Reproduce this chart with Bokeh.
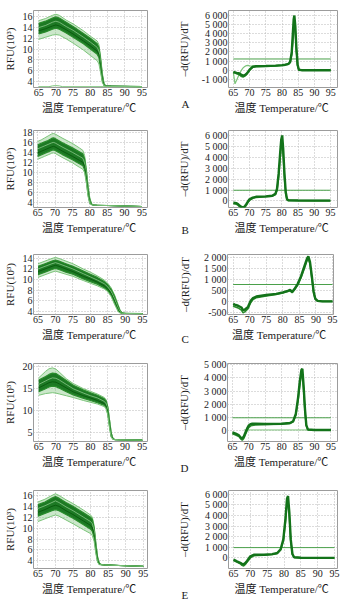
from bokeh.plotting import figure
from bokeh.layouts import column, row
from bokeh.models import FixedTicker, Range1d, Title
from bokeh.embed import file_html
from bokeh.resources import INLINE

# ---------------- data ----------------
XTICKS = [65, 70, 75, 80, 85, 90, 95]
X_LABEL = "温度  Temperature/℃"
Y_LABEL_MELT = "RFU(10³)"
Y_LABEL_DERIV = "–d(RFU)/dT"
LETTERS = ["A", "B", "C", "D", "E"]

# --- A: melt curves ---
a_T = [65, 67, 69, 70, 71, 73, 75, 78, 80, 82, 82.5, 83, 83.5, 84, 84.5, 86, 90, 95]
a_c1 = [15.3, 15.7, 16.3, 16.5, 16.3, 15.4, 14.7, 13.4, 12.4, 11.5, 10.8, 8.5, 5.5, 3.6, 3.1, 3.05, 3.0, 2.95]
a_c2 = [14.8, 15.2, 15.8, 16.0, 15.8, 15.0, 14.2, 12.9, 12.0, 11.0, 10.3, 8.0, 5.0, 3.4, 3.1, 3.05, 3.0, 2.95]
a_c3 = [14.0, 14.4, 15.0, 15.2, 15.0, 14.2, 13.5, 12.2, 11.3, 10.3, 9.6, 7.3, 4.5, 3.3, 3.1, 3.05, 3.0, 2.95]
a_c4 = [13.4, 13.8, 14.3, 14.5, 14.3, 13.6, 12.8, 11.5, 10.6, 9.6, 9.0, 6.8, 4.2, 3.2, 3.1, 3.05, 3.0, 2.95]
a_c5 = [12.8, 13.2, 13.7, 13.9, 13.7, 13.0, 12.2, 11.0, 10.0, 9.0, 8.4, 6.2, 4.0, 3.2, 3.05, 3.0, 3.0, 2.95]
a_c6 = [11.8, 12.2, 12.6, 12.7, 12.6, 11.9, 11.1, 9.8, 8.8, 7.8, 7.2, 5.5, 3.7, 3.1, 3.05, 3.0, 2.95, 2.9]
a_ntc_T = [65, 68, 69, 70, 71, 72, 95]
a_ntc = [2.95, 2.95, 3.1, 3.15, 3.1, 2.95, 2.95]

# --- B: melt curves ---
b_T = [65, 66, 67, 68, 69, 69.5, 70, 72, 75, 77, 78, 78.5, 79, 79.5, 80, 80.5, 81, 82, 85, 90, 95]
b_c1 = [16.3, 16.6, 17.0, 17.4, 17.8, 17.9, 17.8, 17.0, 15.9, 15.0, 14.5, 13.5, 11.0, 7.5, 5.0, 3.8, 3.5, 3.45, 3.4, 3.3, 3.2]
b_c2 = [15.6, 15.9, 16.2, 16.5, 16.9, 17.0, 16.9, 16.1, 15.0, 14.2, 13.8, 12.8, 10.3, 7.0, 4.6, 3.7, 3.5, 3.45, 3.4, 3.3, 3.2]
b_c3 = [14.8, 15.1, 15.4, 15.7, 16.0, 16.1, 16.0, 15.2, 14.1, 13.3, 12.9, 12.0, 9.7, 6.5, 4.3, 3.6, 3.5, 3.45, 3.4, 3.3, 3.2]
b_c4 = [14.0, 14.3, 14.6, 14.9, 15.2, 15.3, 15.2, 14.4, 13.3, 12.5, 12.1, 11.3, 9.0, 6.0, 4.0, 3.6, 3.5, 3.45, 3.4, 3.3, 3.2]
b_c5 = [13.3, 13.6, 13.9, 14.2, 14.5, 14.6, 14.5, 13.7, 12.6, 11.8, 11.4, 10.6, 8.4, 5.6, 3.9, 3.6, 3.5, 3.45, 3.4, 3.3, 3.2]
b_c6 = [12.7, 13.0, 13.3, 13.6, 13.9, 14.0, 13.9, 13.1, 12.0, 11.1, 10.7, 10.0, 8.0, 5.2, 3.8, 3.55, 3.5, 3.45, 3.4, 3.3, 3.2]

# --- C: melt curves ---
c_T = [65, 67, 69, 70, 71, 73, 75, 78, 80, 82, 84, 85, 86, 87, 88, 88.5, 89, 89.5, 90, 95]
c_c1 = [13.0, 13.5, 14.0, 14.2, 14.0, 13.5, 13.0, 12.0, 11.4, 10.7, 9.9, 9.3, 8.4, 7.0, 5.2, 4.3, 3.8, 3.6, 3.55, 3.5]
c_c2 = [12.5, 13.0, 13.5, 13.7, 13.5, 13.0, 12.5, 11.6, 11.0, 10.4, 9.6, 9.0, 8.1, 6.7, 4.9, 4.1, 3.7, 3.6, 3.55, 3.5]
c_c3 = [12.0, 12.5, 13.0, 13.2, 13.0, 12.5, 12.0, 11.1, 10.5, 9.9, 9.2, 8.6, 7.7, 6.2, 4.5, 3.9, 3.65, 3.6, 3.55, 3.5]
c_c4 = [11.5, 12.0, 12.5, 12.7, 12.5, 12.0, 11.5, 10.6, 10.1, 9.5, 8.8, 8.2, 7.3, 5.8, 4.2, 3.8, 3.6, 3.55, 3.55, 3.5]
c_c5 = [10.9, 11.4, 11.9, 12.1, 11.9, 11.4, 11.0, 10.1, 9.6, 9.1, 8.4, 7.9, 7.0, 5.5, 4.0, 3.7, 3.6, 3.55, 3.55, 3.5]
c_c6 = [10.4, 10.9, 11.4, 11.6, 11.4, 11.0, 10.6, 9.8, 9.3, 8.8, 8.2, 7.7, 6.7, 5.2, 3.9, 3.65, 3.6, 3.55, 3.55, 3.5]

# --- D: melt curves ---
d_T = [65, 67, 68, 69, 70, 71, 73, 75, 78, 80, 82, 84, 84.5, 85, 85.5, 86, 86.5, 87, 88, 95]
d_c1 = [17.5, 19.0, 19.6, 19.8, 19.5, 18.8, 17.3, 16.2, 15.0, 14.4, 13.8, 13.0, 12.5, 11.0, 8.0, 5.0, 3.6, 3.35, 3.3, 3.2]
d_c2 = [17.0, 17.8, 18.3, 18.6, 18.5, 18.0, 16.9, 15.8, 14.7, 14.1, 13.5, 12.7, 12.2, 10.8, 7.8, 4.8, 3.6, 3.35, 3.3, 3.2]
d_c3 = [16.0, 16.8, 17.2, 17.5, 17.4, 17.0, 16.0, 15.0, 14.0, 13.4, 12.9, 12.1, 11.6, 10.2, 7.3, 4.5, 3.5, 3.35, 3.3, 3.2]
d_c4 = [15.2, 16.0, 16.4, 16.6, 16.5, 16.1, 15.2, 14.3, 13.4, 12.9, 12.3, 11.6, 11.1, 9.7, 6.8, 4.2, 3.5, 3.35, 3.3, 3.2]
d_c5 = [14.3, 15.0, 15.4, 15.6, 15.5, 15.1, 14.3, 13.6, 12.8, 12.3, 11.8, 11.2, 10.7, 9.3, 6.4, 4.0, 3.45, 3.35, 3.3, 3.2]
d_c6 = [13.5, 13.9, 14.0, 14.1, 14.0, 13.8, 13.4, 13.0, 12.3, 11.9, 11.5, 10.9, 10.4, 9.0, 6.0, 3.9, 3.45, 3.35, 3.3, 3.2]

# --- E: melt curves ---
e_T = [65, 67, 69, 70, 71, 73, 75, 78, 80, 80.5, 81, 81.5, 82, 82.5, 83, 84, 90, 95]
e_c1 = [14.8, 15.3, 16.0, 16.3, 16.0, 15.2, 14.5, 13.3, 12.4, 12.0, 10.5, 7.5, 4.8, 3.6, 3.35, 3.25, 3.1, 3.0]
e_c2 = [14.3, 14.8, 15.5, 15.8, 15.5, 14.7, 14.0, 12.8, 12.0, 11.6, 10.1, 7.1, 4.6, 3.5, 3.35, 3.25, 3.1, 3.0]
e_c3 = [13.6, 14.1, 14.7, 15.0, 14.7, 13.9, 13.2, 12.0, 11.2, 10.8, 9.5, 6.7, 4.3, 3.45, 3.3, 3.25, 3.1, 3.0]
e_c4 = [12.9, 13.4, 14.0, 14.2, 14.0, 13.2, 12.5, 11.3, 10.5, 10.1, 8.9, 6.2, 4.1, 3.4, 3.3, 3.25, 3.1, 3.0]
e_c5 = [12.2, 12.7, 13.2, 13.4, 13.2, 12.5, 11.8, 10.6, 9.8, 9.4, 8.3, 5.8, 3.9, 3.35, 3.3, 3.25, 3.1, 3.0]
e_c6 = [11.2, 11.7, 12.2, 12.4, 12.2, 11.5, 10.8, 9.7, 9.0, 8.6, 7.6, 5.3, 3.7, 3.3, 3.3, 3.25, 3.1, 3.0]

# --- A: derivative ---
ar_T = [65, 65.5, 66, 66.5, 67, 67.5, 68, 68.5, 69, 69.5, 70, 71, 72, 75, 78, 80, 81, 82, 82.5, 83, 83.3, 83.6, 83.8, 84.1, 84.4, 84.8, 85.2, 86, 90, 95]
ar_main = [-200, -250, -300, -330, -380, -520, -600, -560, -420, -200, 50, 380, 430, 460, 500, 560, 600, 700, 900, 2000, 3800, 5600, 6000, 4800, 2600, 600, 50, 0, 0, 0]
ar_low = [-250, -300, -400, -450, -550, -700, -750, -650, -500, -250, 0, 330, 400, 430, 470, 520, 560, 650, 850, 1800, 3300, 4700, 5000, 4300, 2300, 500, 30, 0, 0, 0]
ar_light = [-250, -1500, -1100, -700, -300, 0, 250, 400, 500, 520, 480, 450, 450, 460, 500, 560, 600, 680, 850, 1600, 2800, 4000, 4400, 3800, 2000, 400, 20, 0, 0, 0]
ar_threshold = 1230

# --- B: derivative ---
br_T = [65, 66, 66.5, 67, 67.5, 68, 68.5, 69, 69.5, 70, 71, 72, 75, 77, 78, 78.5, 79, 79.5, 79.8, 80.1, 80.4, 80.8, 81.2, 81.6, 82, 85, 90, 95]
br_main = [-150, -200, -300, -450, -550, -600, -500, -300, -50, 150, 300, 380, 420, 480, 650, 1100, 2500, 4500, 5600, 6000, 4800, 2500, 800, 150, 60, 40, 30, 30]
br_low = [-250, -300, -400, -550, -650, -700, -600, -400, -150, 50, 250, 330, 380, 430, 580, 950, 2200, 4000, 5000, 5300, 4200, 2100, 650, 100, 50, 40, 30, 30]
br_threshold = 980

# --- C: derivative ---
cr_T = [65, 65.5, 66.5, 67.5, 68, 68.5, 69.5, 70.3, 71, 72, 75, 78, 80, 81.5, 82.2, 82.8, 83.5, 84.5, 85.5, 86.5, 87.3, 87.7, 88.2, 88.8, 89.3, 89.8, 90.5, 92, 95]
cr_main = [-120, -150, -200, -280, -400, -380, -250, 30, 150, 220, 290, 340, 410, 480, 520, 430, 560, 800, 1150, 1600, 1950, 2050, 1800, 1100, 450, 120, 20, 0, 0]
cr_low = [-200, -250, -300, -400, -520, -480, -330, -60, 80, 170, 250, 310, 380, 450, 490, 400, 520, 740, 1080, 1500, 1850, 1950, 1700, 1000, 380, 90, 10, 0, 0]
cr_threshold = 770

# --- D: derivative ---
dr_T = [65, 66, 67, 67.5, 68, 68.5, 69, 69.5, 70, 70.5, 71, 72, 75, 80, 82.5, 83.5, 84.3, 85, 85.5, 86, 86.3, 86.7, 87.1, 87.5, 88, 90, 95]
dr_main = [-150, -250, -380, -550, -620, -450, -150, 150, 380, 480, 500, 500, 480, 500, 560, 700, 1250, 2500, 3700, 4600, 4700, 3300, 1600, 400, 60, 30, 30]
dr_low = [-250, -350, -480, -650, -750, -600, -300, 0, 220, 330, 380, 420, 450, 480, 530, 650, 1150, 2300, 3400, 4200, 4300, 3000, 1400, 350, 50, 30, 30]
dr_flat_T = [68.5, 95]
dr_flat = [30, 30]
dr_threshold = 960

# --- E: derivative ---
er_T = [65, 66, 67, 67.5, 68, 68.5, 69, 70, 71, 72, 74, 76.5, 78, 79, 79.8, 80.4, 80.9, 81.2, 81.6, 82, 82.5, 83, 85, 95]
er_main = [-150, -330, -460, -560, -600, -480, -280, 150, 300, 300, 300, 360, 460, 820, 1750, 3600, 5600, 5850, 4200, 1750, 370, 60, 10, 0]
er_low = [-250, -400, -550, -700, -760, -620, -400, 0, 200, 230, 260, 320, 420, 750, 1600, 3300, 5100, 5300, 3800, 1600, 330, 50, 10, 0]
er_threshold = 975

# axis ticks
a_yticks = [4, 6, 8, 10, 12, 14, 16]
b_yticks = [4, 6, 8, 10, 12, 14, 16, 18]
c_yticks = [4, 6, 8, 10, 12, 14]
d_yticks = [5, 10, 15, 20]
e_yticks = [4, 6, 8, 10, 12, 14, 16]
ar_yticks = [-1000, 0, 1000, 2000, 3000, 4000, 5000, 6000]
br_yticks = [0, 1000, 2000, 3000, 4000, 5000, 6000]
cr_yticks = [-500, 0, 500, 1000, 1500, 2000]
dr_yticks = [0, 1000, 2000, 3000, 4000, 5000]
er_yticks = [0, 1000, 2000, 3000, 4000, 5000, 6000]

# ---------------- styling / layout ----------------
SERIF = "Liberation Serif"
MIXED = "'Liberation Serif', 'Noto Sans CJK SC'"
DARK = "#13731a"
MID = "#2a8c2c"
LIGHT = "#7cc47a"
PALE = "#a9dca5"

LEFT_W, RIGHT_W = 174, 181
ROW_H = [120, 120, 110, 125, 128]


def styled(w, h, top, bottom, left, right, xr, yr, yticks, ylabel, ylab_standoff,
           overrides=None):
    p = figure(width=w, height=h, x_range=Range1d(*xr), y_range=Range1d(*yr),
               output_backend="svg", toolbar_location=None,
               min_border_top=top, min_border_bottom=bottom,
               min_border_left=left, min_border_right=right)
    p.outline_line_color = "#9c9c9c"
    p.outline_line_width = 1
    for g in (p.xgrid[0], p.ygrid[0]):
        g.grid_line_color = "#b8b8b8"
        g.grid_line_dash = "1 2"
    p.xaxis.ticker = FixedTicker(ticks=XTICKS)
    p.yaxis.ticker = FixedTicker(ticks=yticks)
    for ax in (p.xaxis[0], p.yaxis[0]):
        ax.axis_line_color = None
        ax.major_tick_out = 0
        ax.major_tick_in = 0
        ax.minor_tick_line_color = None
        ax.major_label_text_font = SERIF
        ax.major_label_text_font_size = "10px"
        ax.major_label_text_color = "#1a1a1a"
        ax.axis_label_text_font_size = "11px"
        ax.axis_label_text_font_style = "normal"
        ax.axis_label_text_color = "#1a1a1a"
        ax.major_label_standoff = 1
    p.xaxis.axis_label = X_LABEL
    p.xaxis.axis_label_text_font = MIXED
    p.xaxis.axis_label_standoff = 3
    p.yaxis.axis_label = ylabel
    p.yaxis.axis_label_text_font = SERIF
    p.yaxis.axis_label_standoff = ylab_standoff
    if overrides:
        p.yaxis.major_label_overrides = overrides
    return p


def melt_panel(row_i, T, curves, xr, yr, yticks, top, bottom, extra=None):
    p = styled(LEFT_W, ROW_H[row_i], top, bottom, 33, LEFT_W - 33 - 114, xr, yr, yticks,
               Y_LABEL_MELT, 4)
    c1, c2, c3, c4, c5, c6 = curves
    p.varea(x=T, y1=c6, y2=c1, fill_color=LIGHT, fill_alpha=0.4)
    p.varea(x=T, y1=c5, y2=c2, fill_color=DARK, fill_alpha=0.95)
    p.line(T, c1, line_color=LIGHT, line_width=1)
    p.line(T, c2, line_color=MID, line_width=1.2)
    p.line(T, c3, line_color=PALE, line_width=0.8, line_alpha=0.8)
    p.line(T, c4, line_color="#0b5c0f", line_width=1)
    p.line(T, c5, line_color=MID, line_width=1.2)
    p.line(T, c6, line_color=LIGHT, line_width=1)
    if extra:
        p.line(extra[0], extra[1], line_color=LIGHT, line_width=1)
    return p


def deriv_panel(row_i, T, main, low, threshold, xr, yr, yticks, top, bottom, right,
                ylab_standoff, letter, letter_offset, letter_standoff, light=None, flat=None):
    overrides = {t: f"{t:,}".replace(",", " ") for t in yticks}
    p = styled(RIGHT_W, ROW_H[row_i], top, bottom, 53, right, xr, yr, yticks,
               Y_LABEL_DERIV, ylab_standoff, overrides)
    p.line([XTICKS[0], XTICKS[-1]], [threshold, threshold], line_color="#4aa04a", line_width=1)
    if flat:
        p.line(flat[0], flat[1], line_color=LIGHT, line_width=1)
    if light:
        p.line(T, light, line_color=LIGHT, line_width=1.2)
    p.line(T, low, line_color=MID, line_width=1.6)
    p.line(T, main, line_color=DARK, line_width=2.4)
    p.add_layout(Title(text=letter, align="left", offset=letter_offset,
                       standoff=letter_standoff, vertical_align="top",
                       text_font=SERIF, text_font_size="11px", text_font_style="normal",
                       text_color="#1a1a1a"), "below")
    return p


pA = melt_panel(0, a_T, [a_c1, a_c2, a_c3, a_c4, a_c5, a_c6], (63.5, 96.6), (2.8, 17.2),
                a_yticks, 8, 33, extra=(a_ntc_T, a_ntc))
pB = melt_panel(1, b_T, [b_c1, b_c2, b_c3, b_c4, b_c5, b_c6], (63.8, 96.6), (3.0, 18.5),
                b_yticks, 10, 32)
pC = melt_panel(2, c_T, [c_c1, c_c2, c_c3, c_c4, c_c5, c_c6], (63.7, 96.4), (3.35, 14.75),
                c_yticks, 13, 36)
pD = melt_panel(3, d_T, [d_c1, d_c2, d_c3, d_c4, d_c5, d_c6], (63.5, 96.5), (2.9, 20.8),
                d_yticks, 13, 34)
pE = melt_panel(4, e_T, [e_c1, e_c2, e_c3, e_c4, e_c5, e_c6], (63.75, 96.2), (2.6, 16.9),
                e_yticks, 15, 35)

qA = deriv_panel(0, ar_T, ar_main, ar_low, ar_threshold, (63.5, 97.1), (-1900, 6550),
                 ar_yticks, 10, 32, 18, 9, LETTERS[0], -47, -37, light=ar_light)
qB = deriv_panel(1, br_T, br_main, br_low, br_threshold, (63.5, 97.2), (-600, 6450),
                 br_yticks, 10, 33, 18, 12, LETTERS[1], -47, -25)
qC = deriv_panel(2, cr_T, cr_main, cr_low, cr_threshold, (63.3, 95.3), (-600, 2140),
                 cr_yticks, 14, 35, 22, 10, LETTERS[2], -46, -22)
qD = deriv_panel(3, dr_T, dr_main, dr_low, dr_threshold, (63.5, 97.0), (-850, 5100),
                 dr_yticks, 13, 34, 18, 11, LETTERS[3], -47, -17,
                 flat=(dr_flat_T, dr_flat))
qE = deriv_panel(4, er_T, er_main, er_low, er_threshold, (63.5, 95.9), (-1000, 6370),
                 er_yticks, 14, 33, 18, 12, LETTERS[4], -47, -18)

layout = column(row(pA, qA), row(pB, qB), row(pC, qC), row(pD, qD), row(pE, qE))

open("out.html", "w").write(file_html(layout, INLINE))
